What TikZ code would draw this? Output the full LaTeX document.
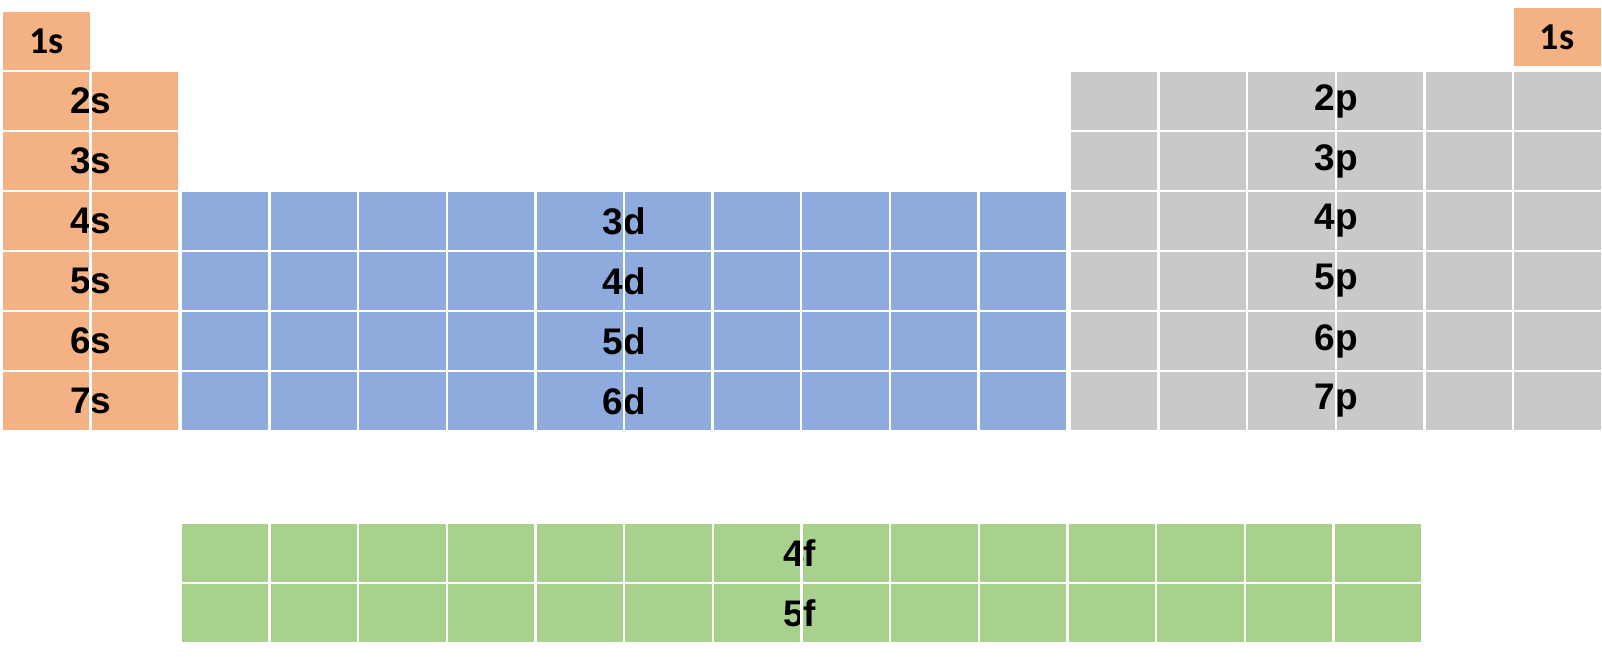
\documentclass[tikz,border=0pt]{standalone}
\usepackage{fontspec}
\setmainfont{Liberation Sans}
\newfontfamily\calibri{Carlito}
\usepackage{tikz,xcolor}
\definecolor{sorange}{HTML}{F4B183}
\definecolor{dblue}{HTML}{8FAADC}
\definecolor{pgrey}{HTML}{C9C9C9}
\definecolor{fgreen}{HTML}{A9D18E}
\tikzstyle{cell} = [shape=rectangle, inner sep=0pt, minimum width=88.6pt, minimum height=60pt, draw=none]
\tikzstyle{orb} = [inner sep=0pt, font=\fontsize{37}{41}\selectfont\bfseries]
\tikzstyle{gap} = [draw=white, line width=2pt]

\begin{document}
\begin{tikzpicture}[x=1pt,y=-1pt]
    \useasboundingbox (0,0) rectangle (1602,656);
    % create the cells
    \node (s-1-1)[cell, fill=sorange] at (46.3,41) {};
    \node (s-1-r)[cell, fill=sorange] at (1557,37) {};
    \foreach \n in {2,...,7}
        \foreach \c in {1,2}
            \node (s-\n-\c)[cell, fill=sorange] at ({2+88.6*(\c-0.5)},{41+60*(\n-1)}) {};
    \foreach \n in {3,...,6}
        \foreach \c in {1,...,10}
            \node (d-\n-\c)[cell, fill=dblue] at ({181+88.6*(\c-0.5)},{41+60*\n}) {};
    \foreach \n in {2,...,7}
        \foreach \c in {1,...,6}
            \node (p-\n-\c)[cell, fill=pgrey] at ({1070+88.6*(\c-0.5)},{41+60*(\n-1)}) {};
    \foreach \n in {4,5}
        \foreach \c in {1,...,14}
            \node (f-\n-\c)[cell, fill=fgreen] at ({181+88.64*(\c-0.5)},{553+60*(\n-4)}) {};
    % labels
    \node (lbl-1s)[orb, font=\calibri\fontsize{38}{42}\selectfont\bfseries] at (s-1-1) {1s};
    \node (lbl-1s-r)[orb, font=\calibri\fontsize{38}{42}\selectfont\bfseries] at (s-1-r) {1s};
    \foreach \n in {2,...,7}
        \node (lbl-s\n)[orb] at (s-\n-1.east) {\n s};
    \foreach \n in {3,...,6}
        \node (lbl-d\n)[orb] at (d-\n-5.east) {\n d};
    \foreach \n in {2,...,7}
        \node (lbl-p\n)[orb] at (p-\n-3.east) {\n p};
    \foreach \n in {4,5}
        \node (lbl-f\n)[orb, xshift=-2pt] at (f-\n-7.east) {\n f};
    % white gaps between the cells
    \draw[gap] (s-1-1.south west) rectangle (s-1-1.north east);
    \draw[gap] (s-1-r.south west) rectangle (s-1-r.north east);
    \foreach \n in {2,...,7}
        \foreach \c in {1,2}
            \draw[gap] (s-\n-\c.south west) rectangle (s-\n-\c.north east);
    \foreach \n in {3,...,6}
        \foreach \c in {1,...,10}
            \draw[gap] (d-\n-\c.south west) rectangle (d-\n-\c.north east);
    \foreach \n in {2,...,7}
        \foreach \c in {1,...,6}
            \draw[gap] (p-\n-\c.south west) rectangle (p-\n-\c.north east);
    \foreach \n in {4,5}
        \foreach \c in {1,...,14}
            \draw[gap] (f-\n-\c.south west) rectangle (f-\n-\c.north east);
\end{tikzpicture}
\end{document}
